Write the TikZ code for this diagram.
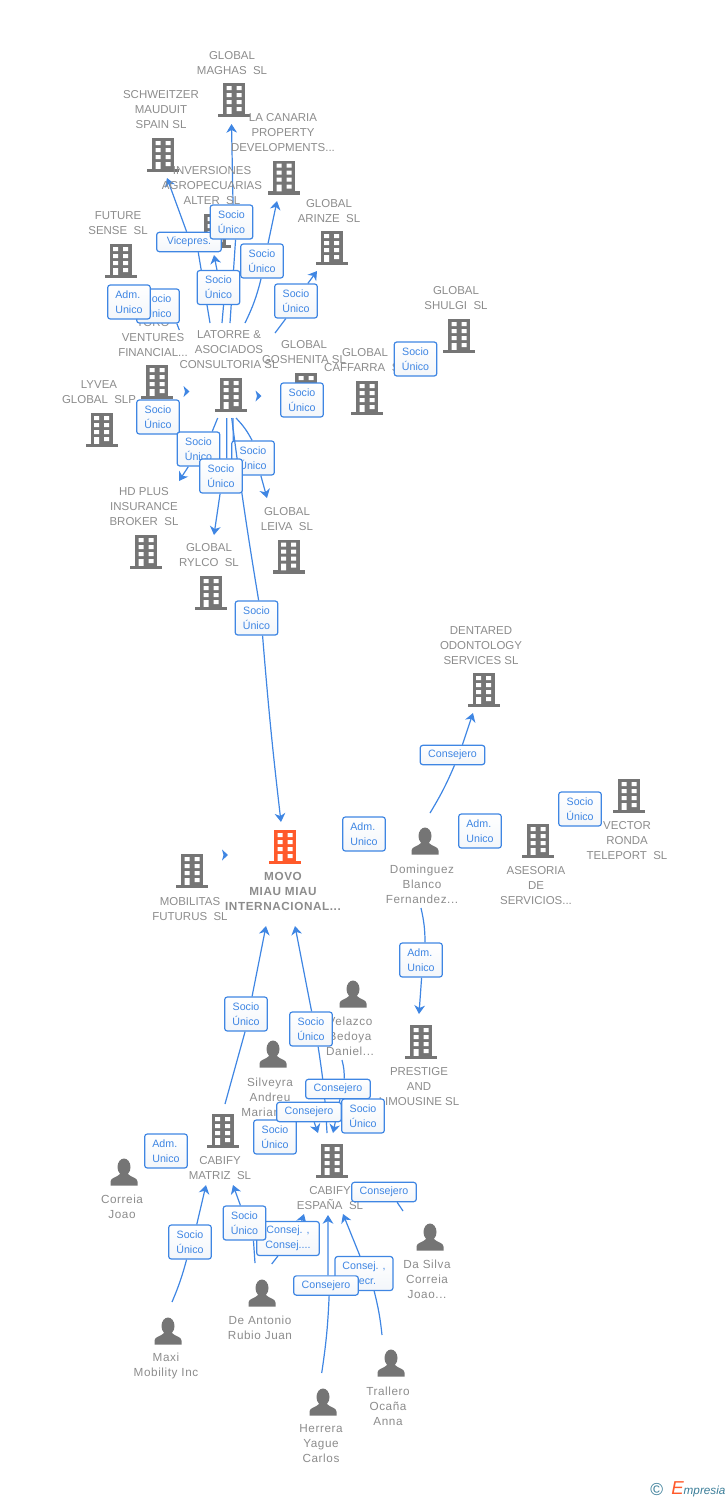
\documentclass[tikz,border=0pt]{standalone}
\usepackage{fontspec}
\setmainfont{Liberation Sans}
\newfontfamily\spacedfam[LetterSpace=5]{Liberation Sans}
\usepackage{xcolor}
\usetikzlibrary{positioning, arrows.meta, backgrounds}

\definecolor{iconGrey}{HTML}{757575}
\definecolor{iconOrange}{HTML}{FF5A2B}
\definecolor{lblGrey}{HTML}{8C8C8C}
\definecolor{linkBlue}{HTML}{3F86E3}
\definecolor{boxLow}{HTML}{F3F6FA}
\definecolor{logoTeal}{HTML}{3A7D98}

\tikzset{
    lblbase/.style={text=lblGrey, align=center, inner sep=0pt},
    lbl/.style={lblbase, yshift=-0.75pt, font=\fontsize{8.6}{11.25}\selectfont},
    lblp/.style={lblbase, font=\fontsize{8.8}{11.25}\selectfont\spacedfam},
    lblmain/.style={lblbase, font=\fontsize{8.8}{11.25}\selectfont\spacedfam\bfseries},
    tag/.style={draw=linkBlue, line width=0.9pt, rounded corners=2pt, top color=white, bottom color=boxLow,
        text=linkBlue, align=center, inner sep=0pt, minimum width=32pt, minimum height=25.5pt,
        font=\fontsize{8}{11.25}\selectfont},
    tagadm/.style={tag, align=left},
    tagwide/.style={tag, minimum width=48.5pt, minimum height=14.5pt},
    link/.style={draw=linkBlue, line width=0.9pt, -{Stealth[length=6.5pt, width=8pt, inset=2pt]}},
    plainlink/.style={draw=linkBlue, line width=0.9pt},
    pics/bldg/.style={code={
        \fill[#1] (-11,-17) rectangle (11,15.5);
        \fill[#1] (-16,13.8) rectangle (16,17);
        \fill[white] (-7.5,-14) rectangle (-2.5,-10) (2.5,-14) rectangle (7.5,-10);
        \fill[white] (-7.5,-7) rectangle (-2.5,-3) (2.5,-7) rectangle (7.5,-3);
        \fill[white] (-7.5,0) rectangle (-2.5,4) (2.5,0) rectangle (7.5,4);
        \fill[white] (-7.5,7) rectangle (-2.5,13.8) (2.5,7) rectangle (7.5,11);
    }},
    pics/bldg/.default=iconGrey,
    pics/person/.style={code={
        \fill[iconGrey] (0,-5) ellipse [x radius=6.5, y radius=8.5];
        \fill[iconGrey] (-13.5,13.5) -- (-13.5,9.5) .. controls (-13.5,5.5) and (-7,5.5) .. (-4,2) -- (4,2)
            .. controls (7,5.5) and (13.5,5.5) .. (13.5,9.5) -- (13.5,13.5) -- cycle;
    }},
    pics/loosehead/.style={code={
        \fill[linkBlue] (-3,-5.5) -- (3,0) -- (-3,5.5) -- (-1.5,0) -- cycle;
    }}
}

\begin{document}
\begin{tikzpicture}[x=0.75pt, y=-0.75pt]
    \useasboundingbox (0,0) rectangle (728,1500);

    % Companies above the consultancy
    \coordinate (maghas) at (234,100); \pic at (maghas) {bldg};
    \node[lbl] (maghaslbl) at (232,62.5) {GLOBAL\\MAGHAS\ \ SL};
    \coordinate (schweitzer) at (163,155); \pic at (schweitzer) {bldg};
    \node[lbl] (schweitzerlbl) at (161,109) {SCHWEITZER\\MAUDUIT\\SPAIN SL};
    \coordinate (canaria) at (284,177.5); \pic at (canaria) {bldg};
    \node[lbl] (canarialbl) at (283,132) {LA CANARIA\\PROPERTY\\DEVELOPMENTS...};
    \coordinate (alter) at (215,231); \pic at (alter) {bldg};
    \node[lbl] (alterlbl) at (212,185) {INVERSIONES\\AGROPECUARIAS\\ALTER\ \ SL};
    \coordinate (arinze) at (331.5,248); \pic at (arinze) {bldg};
    \node[lbl] (arinzelbl) at (329,210) {GLOBAL\\ARINZE\ \ SL};
    \coordinate (future) at (120.5,261); \pic at (future) {bldg};
    \node[lbl] (futurelbl) at (118,222.5) {FUTURE\\SENSE\ \ SL};
    \coordinate (shulgi) at (459,336); \pic at (shulgi) {bldg};
    \node[lbl] (shulgilbl) at (456,297.5) {GLOBAL\\SHULGI\ \ SL};

    % Row of the consultancy
    \coordinate (toro) at (157,382); \pic at (toro) {bldg};
    \node[lbl] (torolbl) at (153,337) {TORO\\VENTURES\\FINANCIAL...};
    \coordinate (latorre) at (231,395); \pic at (latorre) {bldg};
    \node[lbl] (latorrelbl) at (229,349) {LATORRE \&\\ASOCIADOS\\CONSULTORIA SL};
    \coordinate (goshenita) at (306,390); \pic at (goshenita) {bldg};
    \node[lbl] (goshenitalbl) at (304,351.5) {GLOBAL\\GOSHENITA SL};
    \coordinate (caffarra) at (367,398); \pic at (caffarra) {bldg};
    \node[lbl] (caffarralbl) at (365,359.5) {GLOBAL\\CAFFARRA\ \ SL};
    \coordinate (lyvea) at (101.5,430); \pic at (lyvea) {bldg};
    \node[lbl] (lyvealbl) at (99,391.5) {LYVEA\\GLOBAL\ \ SLP};
    \coordinate (hdplus) at (146,552); \pic at (hdplus) {bldg};
    \node[lbl] (hdpluslbl) at (144,506) {HD PLUS\\INSURANCE\\BROKER\ \ SL};
    \coordinate (rylco) at (211,593); \pic at (rylco) {bldg};
    \node[lbl] (rylcolbl) at (209,554.5) {GLOBAL\\RYLCO\ \ SL};
    \coordinate (leiva) at (288.5,556.5); \pic at (leiva) {bldg};
    \node[lbl] (leivalbl) at (287,518.5) {GLOBAL\\LEIVA\ \ SL};

    % Right hand side
    \coordinate (dentared) at (483.5,690); \pic at (dentared) {bldg};
    \node[lbl] (dentaredlbl) at (481,645) {DENTARED\\ODONTOLOGY\\SERVICES SL};
    \coordinate (vector) at (629,796); \pic at (vector) {bldg};
    \node[lbl] (vectorlbl) at (627,840) {VECTOR\\RONDA\\TELEPORT\ \ SL};
    \coordinate (asesoria) at (538,841); \pic at (asesoria) {bldg};
    \node[lbl] (asesorialbl) at (536,885) {ASESORIA\\DE\\SERVICIOS...};
    \coordinate (dominguez) at (425,841); \pic at (dominguez) {person};
    \node[lblp] (dominguezlbl) at (422,884) {Dominguez\\Blanco\\Fernandez...};
    \coordinate (prestige) at (421,1042); \pic at (prestige) {bldg};
    \node[lbl] (prestigelbl) at (419,1086) {PRESTIGE\\AND\\LIMOUSINE SL};

    % Centre
    \coordinate (movo) at (285,847); \pic at (movo) {bldg=iconOrange};
    \node[lblmain] (movolbl) at (283,891) {MOVO\\MIAU MIAU\\INTERNACIONAL...};
    \coordinate (mobilitas) at (192,871); \pic at (mobilitas) {bldg};
    \node[lbl] (mobilitaslbl) at (190,908.5) {MOBILITAS\\FUTURUS\ \ SL};

    % Lower group
    \coordinate (velazco) at (353,994); \pic at (velazco) {person};
    \node[lblp] (velazcolbl) at (350,1036) {Velazco\\Bedoya\\Daniel...};
    \coordinate (silveyra) at (273,1054); \pic at (silveyra) {person};
    \node[lblp] (silveyralbl) at (270,1097) {Silveyra\\Andreu\\Mariano...};
    \coordinate (matriz) at (222.5,1131); \pic at (matriz) {bldg};
    \node[lbl] (matrizlbl) at (220,1167.5) {CABIFY\\MATRIZ\ \ SL};
    \coordinate (espana) at (332,1161); \pic at (espana) {bldg};
    \node[lbl] (espanalbl) at (330,1197.5) {CABIFY\\ESPAÑA\ \ SL};
    \coordinate (correia) at (124,1172); \pic at (correia) {person};
    \node[lblp] (correialbl) at (122,1206.5) {Correia\\Joao};
    \coordinate (dasilva) at (430,1237); \pic at (dasilva) {person};
    \node[lblp] (dasilvalbl) at (427,1279) {Da Silva\\Correia\\Joao...};
    \coordinate (deantonio) at (262,1293); \pic at (deantonio) {person};
    \node[lblp] (deantoniolbl) at (260,1327.5) {De Antonio\\Rubio Juan};
    \coordinate (maxi) at (168,1331); \pic at (maxi) {person};
    \node[lblp] (maxilbl) at (166,1365.5) {Maxi\\Mobility Inc};
    \coordinate (trallero) at (391,1363); \pic at (trallero) {person};
    \node[lblp] (trallerolbl) at (388,1406) {Trallero\\Ocaña\\Anna};
    \coordinate (herrera) at (323,1402); \pic at (herrera) {person};
    \node[lblp] (herreralbl) at (321,1444) {Herrera\\Yague\\Carlos};

    % Heads with no line
    \pic at (186.5,391.5) {loosehead};
    \pic at (258.5,396) {loosehead};
    \pic at (225,855) {loosehead};

    % Tags, in the order they overlap
    \node[tag] (vicepres) [minimum width=48.5pt, minimum height=14.5pt] at (189,242) {Vicepres.};
    \node[tag] (tagMaghas) at (231.5,222) {Socio\\Único};
    \node[tag] (tagCanaria) at (262,261) {Socio\\Único};
    \node[tag] (tagAlter) at (218.5,287.5) {Socio\\Único};
    \node[tag] (tagArinze) at (296,301) {Socio\\Único};
    \node[tag] (tagToro) at (158,306) {Socio\\Único};
    \node[tagadm] (tagFuture) at (129,302) {Adm.\\Unico};
    \node[tag] (tagLyvea) at (158,417) {Socio\\Único};
    \node[tag] (tagHdplus) at (198.5,449) {Socio\\Único};
    \node[tag] (tagLeiva) at (253,458) {Socio\\Único};
    \node[tag] (tagMovo) at (256.5,618) {Socio\\Único};
    % this one runs over the tag before it and under the next
    \coordinate (latorreD) at (231.7,418); \coordinate (movoT) at (281,822);
    \draw[link] (latorreD) to[bend right=1] (tagMovo.83) (tagMovo.-71) to[bend right=1] (movoT);
    \node[tag] (tagRylco) at (221,476) {Socio\\Único};
    \node[tag] (tagGoshenita) at (302,400) {Socio\\Único};
    \node[tag] (tagCaffarra) at (415.5,359) {Socio\\Único};
    \node[tagwide] (tagDentared) at (452.5,755) {Consejero};
    \node[tagadm] (tagDomA) at (364,834) {Adm.\\Unico};
    \node[tagadm] (tagAsesoria) at (480,831) {Adm.\\Unico};
    \node[tag] (tagVector) at (580,809) {Socio\\Único};
    \node[tagadm] (tagPrestige) at (421,960) {Adm.\\Unico};
    \node[tag] (tagMatriz) at (246,1014) {Socio\\Único};
    \node[tag] (tagEspana) at (311,1029) {Socio\\Único};
    \node[tagwide] (tagVelazco) at (338,1089) {Consejero};
    \node[tag] (tagSilvB) at (275,1137) {Socio\\Único};
    \node[tagwide] (tagSilveyra) at (309,1112) {Consejero};
    \node[tag] (tagVelB) at (363,1116) {Socio\\Único};
    \node[tagadm] (tagCorreia) at (166,1151) {Adm.\\Unico};
    \node[tagwide] (tagDasilva) at (384,1192) {Consejero};
    \node[tag] (tagMaxi) at (190,1242) {Socio\\Único};
    \node[tag] (tagDeA2) [minimum width=47pt] at (288,1238.5) {Consej. ,\\Consej....};
    \node[tag] (tagDeA1) at (244.5,1223) {Socio\\Único};
    \node[tag] (tagTrallero) [minimum width=43.5pt] at (364,1273.5) {Consej. ,\\Secr.};
    \node[tagwide] (tagHerrera) at (326,1285.5) {Consejero};

    % Links, behind everything
    \begin{scope}[on background layer]
        \coordinate (la1) at (230,323); \coordinate (maghasT) at (231.5,124);
        \draw[link] (la1) to (tagMaghas.-77) (tagMaghas.85) to (maghasT);
        \coordinate (la2) at (210,323); \coordinate (schweitzerT) at (167,178);
        \draw[link] (la2) to (vicepres.-48) (vicepres.103) to (schweitzerT);
        \coordinate (la3) at (222,323); \coordinate (alterT) at (214,255);
        \draw[link] (la3) to (tagAlter.-74) (tagAlter.95) to (alterT);
        \coordinate (la4) at (245,323); \coordinate (canariaT) at (277,201);
        \draw[link] (la4) to[bend right=6] (tagCanaria.-93) (tagCanaria.71) to (canariaT);
        \coordinate (la5) at (275,333); \coordinate (arinzeT) at (317,271);
        \draw[link] (la5) to (tagArinze.-120) (tagArinze.56) to (arinzeT);
        \coordinate (toroA) at (179.3,330);
        \draw[plainlink] (toroA) to (tagToro.-43);

        \coordinate (la6) at (217.7,418); \coordinate (hdplusT) at (179,481);
        \draw[link] (la6) to (tagHdplus.52) (tagHdplus.-120) to (hdplusT);
        \coordinate (la7) at (226.7,418); \coordinate (rylcoT) at (214,535);
        \draw[link] (la7) to (tagRylco.72) (tagRylco.-93) to (rylcoT);
        \coordinate (la8) at (233,418);
        \draw[plainlink] (la8) to (tagRylco.55);
        \coordinate (la9) at (236,418); \coordinate (leivaT) at (267,498);
        \draw[link] (la9) to[bend left=8] (tagLeiva.93) (tagLeiva.-66) to (leivaT);

        \coordinate (domA) at (430,813); \coordinate (dentaredT) at (473,713);
        \draw[link] (domA) to[bend right=4] (tagDentared.-79) (tagDentared.46) to (dentaredT);
        \coordinate (domB) at (421,908); \coordinate (prestigeT) at (419,1014);
        \draw[link] (domB) to[bend left=6] (tagPrestige.77) (tagPrestige.-88) to (prestigeT);

        \coordinate (matrizA) at (225,1104); \coordinate (movoL) at (266,926);
        \draw[link] (matrizA) to (tagMatriz.-93) (tagMatriz.71) to (movoL);
        \coordinate (espanaA) at (327,1133); \coordinate (movoR) at (295,926);
        \draw[link] (espanaA) to[bend right=3] (tagEspana.-68) (tagEspana.88) to (movoR);
        \coordinate (velA) at (342,1060); \coordinate (espanaT1) at (333,1133);
        \draw[link] (velA) to[bend left=8] (tagVelazco.59) (tagVelazco.-79) to (espanaT1);
        \coordinate (espanaT2) at (318,1133);
        \draw[link] (tagSilveyra.-63) to (espanaT2);
        \coordinate (maxiA) at (172,1302); \coordinate (matrizT1) at (206,1185);
        \draw[link] (maxiA) to[bend right=4] (tagMaxi.-101) (tagMaxi.69) to (matrizT1);
        \coordinate (deaA) at (255,1263); \coordinate (matrizT2) at (233,1185);
        \draw[link] (deaA) to (tagDeA1.-63) (tagDeA1.103) to (matrizT2);
        \coordinate (deaB) at (271.7,1264); \coordinate (espanaT3) at (304,1214);
        \draw[link] (deaB) to (tagDeA2.-120) (tagDeA2.52) to (espanaT3);
        \coordinate (herA) at (321.7,1373); \coordinate (espanaT4) at (328,1215);
        \draw[link] (herA) to[bend right=3] (tagHerrera.-73) (tagHerrera.79) to (espanaT4);
        \coordinate (traA) at (382,1335); \coordinate (espanaT5) at (343,1214);
        \draw[link] (traA) to[bend right=4] (tagTrallero.-60) (tagTrallero.103) to (espanaT5);
        \coordinate (dasA) at (403,1211);
        \draw[plainlink] (dasA) to (tagDasilva.-38);
    \end{scope}

    % Logo
    \node[anchor=west, inner sep=0pt, text=logoTeal, font=\fontsize{13}{13}\selectfont] (logoc) at (650,1489) {©};
    \node[anchor=west, inner sep=0pt, text=logoTeal, font=\fontsize{8.8}{10}\selectfont\itshape] (logot) at (671,1489)
        {{\fontsize{14}{13}\selectfont\color{iconOrange}E}mpresia};
\end{tikzpicture}
\end{document}
